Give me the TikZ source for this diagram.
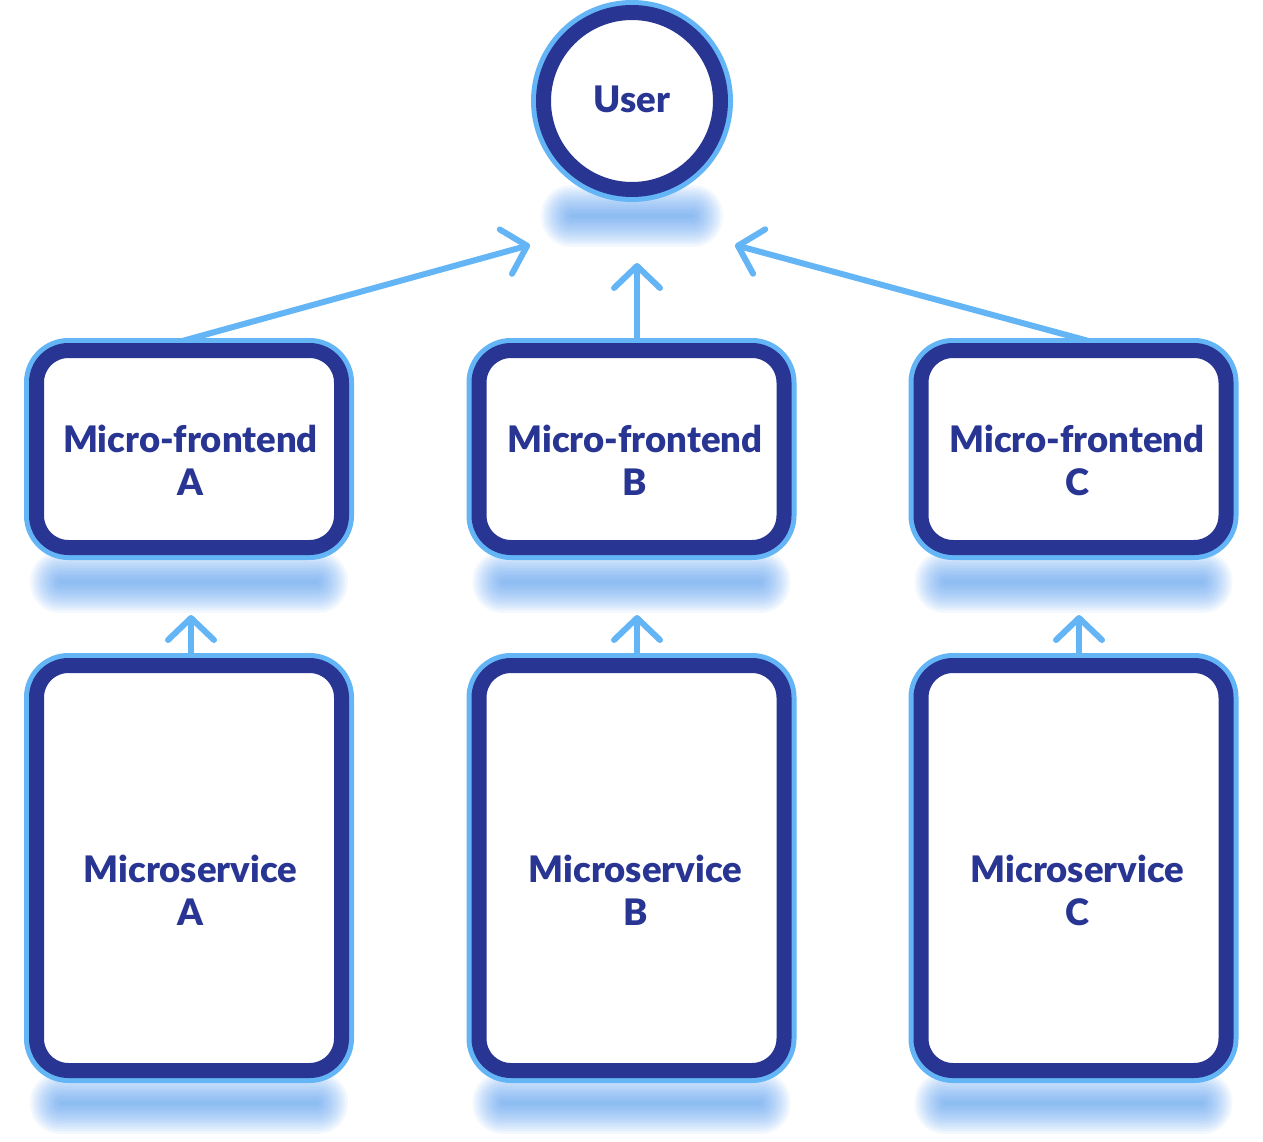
\documentclass[tikz,border=0pt]{standalone}
\usepackage{fontspec}
\setmainfont{Lato}[BoldFont={Lato Black}]
\usetikzlibrary{arrows.meta}
\definecolor{navy}{RGB}{40,53,147}
\definecolor{lblue}{RGB}{100,181,246}
\definecolor{shblue}{RGB}{70,150,240}
\pgfdeclarelayer{shadowlayer}
\pgfdeclarelayer{arrowlayer}
\pgfsetlayers{shadowlayer,arrowlayer,main}
% #1 x, #2 y, #3 core half-width, #4 core half-height
\newcommand\softshadow[4]{%
  \foreach \i [evaluate=\i as \r using {(#4+2.4*\i)*0.95}] in {0,...,12}{%
    \fill[shblue, opacity=0.065, rounded corners=\r pt]
      ({#1-#3-2.4*\i},{#2-#4-2.4*\i}) rectangle ({#1+#3+2.4*\i},{#2+#4+2.4*\i});
  }}
\tikzset{
  boxnode/.style={rectangle, inner sep=0pt, fill=white, draw=navy, line width=15pt,
    rounded corners=32pt, preaction={draw=lblue, line width=25pt}},
  usernode/.style={circle, inner sep=0pt, fill=white, draw=navy, line width=15pt,
    minimum size=177pt, preaction={draw=lblue, line width=25pt}},
  lbl/.style={font=\bfseries\fontsize{36.5}{43}\selectfont, text=navy, align=center, inner sep=0pt},
  conn/.style={draw=lblue, line width=6pt, line cap=round,
    -{Straight Barb[length=22pt, width=46pt, round]}}
}
\begin{document}
\begin{tikzpicture}[x=1pt, y=-1pt]
\useasboundingbox (0,0) rectangle (1263,1142);

% background and shadows
\begin{pgfonlayer}{shadowlayer}
\fill[white] (0,0) rectangle (1263,1142);
\softshadow{632}{216}{62}{2}
\softshadow{189}{582}{130}{2}
\softshadow{631.5}{582}{130}{2}
\softshadow{1073.5}{582}{130}{2}
\softshadow{189}{1103}{130}{2}
\softshadow{631.5}{1103}{130}{2}
\softshadow{1073.5}{1103}{130}{2}
\end{pgfonlayer}

% nodes
\node[usernode] (user) at (632,101) {};
\node[lbl] (userT) at (632,99.5) {User};

\node[boxnode, minimum width=305pt, minimum height=197pt] (mfa) at (189,449) {};
\node[boxnode, minimum width=305pt, minimum height=197pt] (mfb) at (631.5,449) {};
\node[boxnode, minimum width=305pt, minimum height=197pt] (mfc) at (1073.5,449) {};

\node[boxnode, minimum width=305pt, minimum height=405pt] (msa) at (189,868) {};
\node[boxnode, minimum width=305pt, minimum height=405pt] (msb) at (631.5,868) {};
\node[boxnode, minimum width=305pt, minimum height=405pt] (msc) at (1073.5,868) {};

\node[lbl] (mfaT) at (190.5,460) {Micro-frontend\\A};
\node[lbl] (mfbT) at (635,460) {Micro-frontend\\B};
\node[lbl] (mfcT) at (1077,460) {Micro-frontend\\C};

\node[lbl] (msaT) at (190.5,890) {Microservice\\A};
\node[lbl] (msbT) at (635.5,890) {Microservice\\B};
\node[lbl] (mscT) at (1077.5,890) {Microservice\\C};

% arrow targets
\coordinate (tipA) at (530,245);
\coordinate (tipB) at (637,263);
\coordinate (tipC) at (735,245);
\coordinate (tipMA) at (191,615);
\coordinate (tipMB) at (637,615);
\coordinate (tipMC) at (1079,615);

\begin{pgfonlayer}{arrowlayer}
\draw[conn] ([xshift=-14pt]mfa.north) -- (tipA);
\draw[conn] ([xshift=5.5pt]mfb.north) -- (tipB);
\draw[conn] ([xshift=22.5pt]mfc.north) -- (tipC);
\draw[conn] ([xshift=2pt]msa.north) -- (tipMA);
\draw[conn] ([xshift=5.5pt]msb.north) -- (tipMB);
\draw[conn] ([xshift=5.5pt]msc.north) -- (tipMC);
\end{pgfonlayer}
\end{tikzpicture}
\end{document}
